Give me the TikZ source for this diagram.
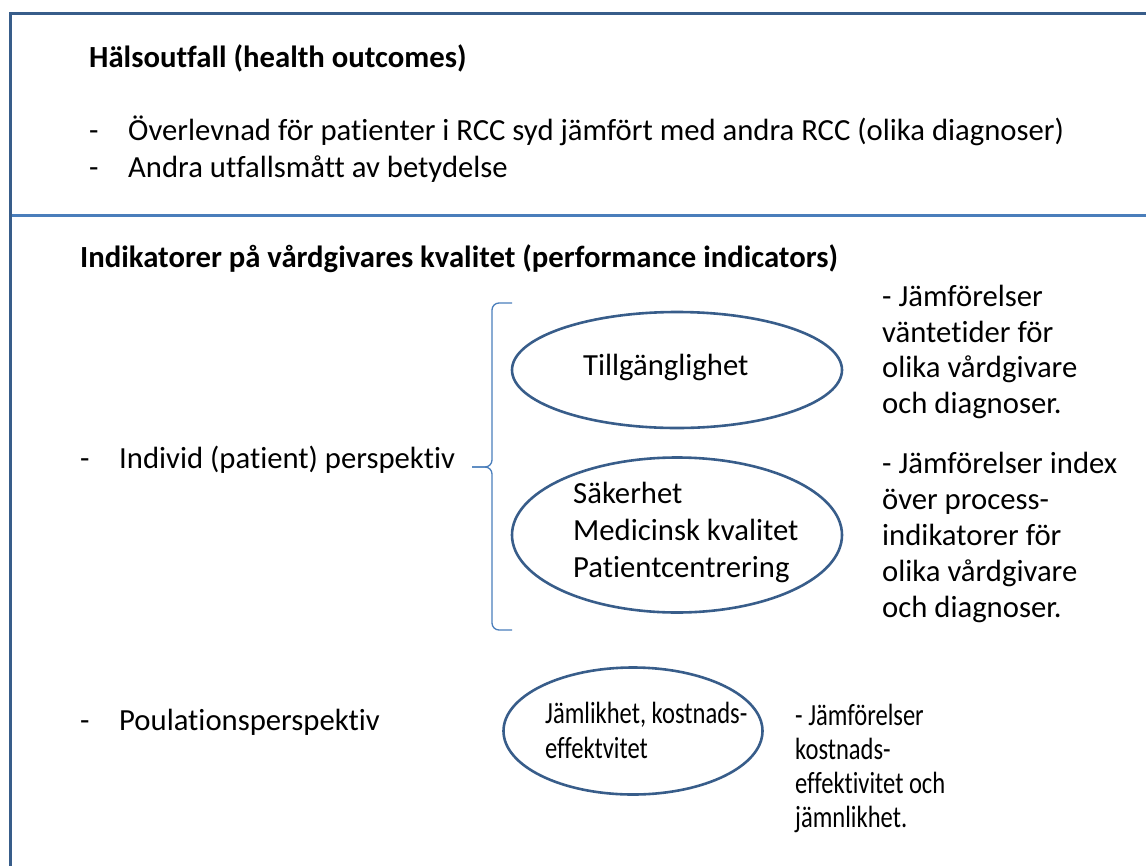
\documentclass[tikz,border=0pt]{standalone}
\usepackage{fontspec}
\setmainfont{Carlito}[Ligatures=NoCommon]
\newfontfamily\narrowfont{Carlito}[Ligatures=NoCommon, FakeStretch=0.8]
\usetikzlibrary{shapes.geometric,positioning}

\definecolor{framedark}{HTML}{385D8A}
\definecolor{framelight}{HTML}{4A7EBB}

\newcommand{\listdash}[1]{\makebox[39pt][l]{-}#1}

\begin{document}
\begin{tikzpicture}[x=1pt, y=-1pt, font=\fontsize{30.7}{36}\selectfont]

	\tikzstyle{frameline}=[draw=framedark, line width=3pt]
	\tikzstyle{divider}=[draw=framelight, line width=3pt]
	\tikzstyle{oval}=[ellipse, draw=framedark, line width=2.6pt, inner sep=0pt]
	\tikzstyle{txt}=[inner sep=0pt, anchor=base west, align=left]
	\tikzstyle{heading}=[txt, font=\fontsize{30.7}{36}\selectfont\bfseries]
	\tikzstyle{bracket}=[draw=framelight, line width=1.3pt, rounded corners=7pt]

	\useasboundingbox (0,0) rectangle (1146,865);

	% Frame + divider
	\draw[frameline] (1146,13) -- (10,13) -- (10,866);
	\draw[divider] (11.5,215) -- (1146,215);

	% Health outcomes
	\node[heading] (T1) at (89,67) {Hälsoutfall (health outcomes)};
	\node[txt] (O1) at (89,140) {\listdash{Överlevnad för patienter i RCC syd jämfört med andra RCC (olika diagnoser)}};
	\node[txt] (O2) at (89,177) {\listdash{Andra utfallsmått av betydelse}};

	% Performance indicators
	\node[heading] (T2) at (80,267) {Indikatorer på vårdgivares kvalitet (performance indicators)};
	\node[txt] (P1) at (80,468) {\listdash{Individ (patient) perspektiv}};
	\node[txt] (P2) at (80,730) {\listdash{Poulationsperspektiv}};

	% Ovals
	\node[oval, minimum width=330pt, minimum height=116pt] (E1) at (677,370) {};
	\node[oval, minimum width=330pt, minimum height=155pt] (E2) at (677,535) {};
	\node[oval, minimum width=259pt, minimum height=127pt] (E3) at (633,731) {};

	% (base of a multi-line node = its last line)
	\node[txt] (E1t) at (583,375) {Tillgänglighet};
	\node[txt, font=\fontsize{30.7}{37}\selectfont] (E2t) at (573,577)
	{Säkerhet\\Medicinsk kvalitet\\Patientcentrering};
	\node[txt, font=\narrowfont\fontsize{30.7}{35}\selectfont] (E3t) at (545,758)
	{Jämlikhet, kostnads-\\effektvitet};

	% Comparisons
	\node[txt, font=\fontsize{30.7}{35.5}\selectfont] (C1) at (882,413)
	{- Jämförelser\\väntetider för\\olika vårdgivare\\och diagnoser.};
	\node[txt] (C2) at (882,617)
	{- Jämförelser index\\över process-\\indikatorer för\\olika vårdgivare\\och diagnoser.};
	\node[txt, font=\narrowfont\fontsize{30.7}{34}\selectfont] (C3) at (795,827)
	{- Jämförelser\\kostnads-\\effektivitet och\\jämnlikhet.};

	% Bracket
	\coordinate (Btip) at (472,467);
	\coordinate (Btop) at (512,303);
	\coordinate (Bbot) at (512,630);
	\draw[bracket] (Btip) -- (492,467) -- (492,303) -- (Btop);
	\draw[bracket] (Btip) -- (492,467) -- (492,630) -- (Bbot);

\end{tikzpicture}
\end{document}
